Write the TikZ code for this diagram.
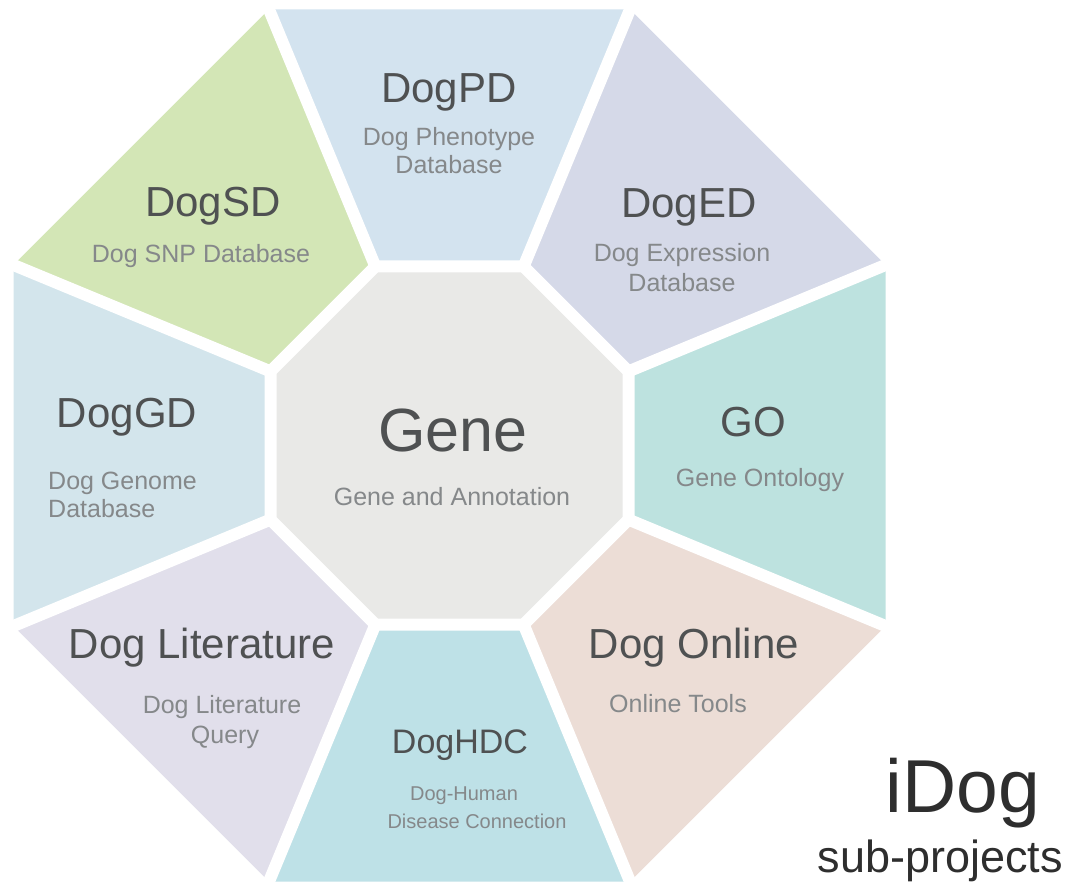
\documentclass[tikz,border=0pt]{standalone}
\usepackage{fontspec}
\setmainfont{Liberation Sans}
\definecolor{cPD}{HTML}{D3E3EF}
\definecolor{cSD}{HTML}{D3E6B6}
\definecolor{cED}{HTML}{D5D9E8}
\definecolor{cGO}{HTML}{BDE2DF}
\definecolor{cON}{HTML}{ECDDD6}
\definecolor{cHD}{HTML}{BEE1E7}
\definecolor{cLI}{HTML}{E1DFEB}
\definecolor{cGD}{HTML}{D3E5EC}
\definecolor{cGE}{HTML}{E9E9E7}
\definecolor{ttl}{HTML}{4F5152}
\definecolor{sub}{HTML}{85888A}
\definecolor{big}{HTML}{2E2E2E}
\tikzset{
  piece/.style={draw=none},
  gap/.style={draw=white, line width=12pt, line cap=round, line join=round},
  ttlnode/.style={inner sep=0pt, anchor=base, text=ttl, font=\fontsize{42}{48}\selectfont},
  subnode/.style={inner sep=0pt, anchor=base, text=sub, font=\fontsize{25}{30}\selectfont},
}
\begin{document}
\begin{tikzpicture}[x=1pt, y=-1pt]
\useasboundingbox (0,0) rectangle (1069,890);
% outer octagon
\coordinate (O1) at (269,9.5);
\coordinate (O2) at (630,9.5);
\coordinate (O3) at (885.5,265);
\coordinate (O4) at (885.5,626);
\coordinate (O5) at (630,881.5);
\coordinate (O6) at (269,881.5);
\coordinate (O7) at (13.5,626);
\coordinate (O8) at (13.5,265);
% inner octagon
\coordinate (I1) at (375.4,266.5);
\coordinate (I2) at (523.6,266.5);
\coordinate (I3) at (628.5,371.4);
\coordinate (I4) at (628.5,519.6);
\coordinate (I5) at (523.6,624.5);
\coordinate (I6) at (375.4,624.5);
\coordinate (I7) at (270.5,519.6);
\coordinate (I8) at (270.5,371.4);
% pieces
\fill[cPD] (O1)--(O2)--(I2)--(I1)--cycle;
\fill[cED] (O2)--(O3)--(I3)--(I2)--cycle;
\fill[cGO] (O3)--(O4)--(I4)--(I3)--cycle;
\fill[cON] (O4)--(O5)--(I5)--(I4)--cycle;
\fill[cHD] (O5)--(O6)--(I6)--(I5)--cycle;
\fill[cLI] (O6)--(O7)--(I7)--(I6)--cycle;
\fill[cGD] (O7)--(O8)--(I8)--(I7)--cycle;
\fill[cSD] (O8)--(O1)--(I1)--(I8)--cycle;
\fill[cGE] (I1)--(I2)--(I3)--(I4)--(I5)--(I6)--(I7)--(I8)--cycle;
% white separators
\draw[gap] (O1)--(I1) (O2)--(I2) (O3)--(I3) (O4)--(I4)
           (O5)--(I5) (O6)--(I6) (O7)--(I7) (O8)--(I8);
\draw[gap] (I1)--(I2)--(I3)--(I4)--(I5)--(I6)--(I7)--(I8)--cycle;
% labels
\node[ttlnode] (pd) at (449,103) {DogPD};
\node[subnode] (pds1) at (449,146) {Dog Phenotype};
\node[subnode] (pds2) at (449,174) {Database};
\node[ttlnode] (sd) at (213,217) {DogSD};
\node[subnode] (sds1) at (201,263) {Dog SNP Database};
\node[ttlnode] (ed) at (689,218) {DogED};
\node[subnode] (eds1) at (682,262) {Dog Expression};
\node[subnode] (eds2) at (682,292) {Database};
\node[ttlnode] (gd) at (127,428) {DogGD};
\node[subnode, anchor=base west] (gds1) at (48,490) {Dog Genome};
\node[subnode, anchor=base west] (gds2) at (48,518) {Database};
\node[ttlnode, font=\fontsize{61}{70}\selectfont] (ge) at (453,452) {Gene};
\node[subnode] (ges1) at (452,506) {Gene and Annotation};
\node[ttlnode] (go) at (753,437) {GO};
\node[subnode] (gos1) at (760,487) {Gene Ontology};
\node[ttlnode] (li) at (202,658) {Dog Literature};
\node[subnode] (lis1) at (222,713) {Dog Literature};
\node[subnode] (lis2) at (225,743) {Query};
\node[ttlnode] (on) at (694,658) {Dog Online};
\node[subnode] (ons1) at (678,712) {Online Tools};
\node[ttlnode, font=\fontsize{34}{40}\selectfont] (hd) at (460,753) {DogHDC};
\node[subnode, font=\fontsize{20}{24}\selectfont] (hds1) at (464,800) {Dog-Human};
\node[subnode, font=\fontsize{20}{24}\selectfont] (hds2) at (477,828) {Disease Connection};
\node[inner sep=0pt, anchor=base east, text=big, font=\fontsize{75}{85}\selectfont] (idog) at (1040,812) {iDog};
\node[inner sep=0pt, anchor=base east, text=big, font=\fontsize{45}{52}\selectfont] (subp) at (1063,872) {sub-projects};
\end{tikzpicture}
\end{document}
